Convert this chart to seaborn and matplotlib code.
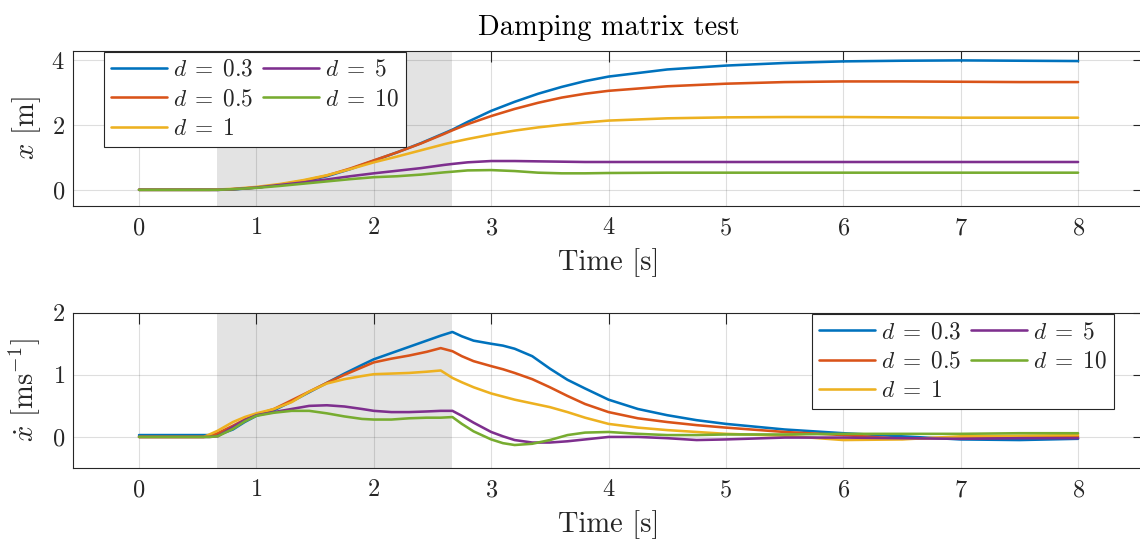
import numpy as np
import pandas as pd
import matplotlib
matplotlib.use("Agg")
import matplotlib.pyplot as plt
from matplotlib.lines import Line2D
import seaborn as sns

# ---------------- data ----------------
LABELS = [r"$d\;=\;0.3$", r"$d\;=\;0.5$", r"$d\;=\;1$", r"$d\;=\;5$", r"$d\;=\;10$"]
COLORS = ["#0072BD", "#D95319", "#EDB120", "#7E2F8E", "#77AC30"]

T_POS = [0, 0.6, 0.67, 0.8, 1.0, 1.2, 1.4, 1.6, 1.8, 2.0, 2.2, 2.4, 2.6, 2.67,
         2.8, 3.0, 3.2, 3.4, 3.6, 3.8, 4.0, 4.5, 5.0, 5.5, 6.0, 6.5, 7.0, 7.5, 8.0]
POS_D03 = [0, 0, 0.0, 0.01, 0.07, 0.15, 0.26, 0.42, 0.64, 0.90, 1.16, 1.44, 1.75, 1.86,
           2.10, 2.44, 2.72, 2.97, 3.18, 3.36, 3.50, 3.72, 3.84, 3.92, 3.97, 3.99, 4.00, 3.99, 3.98]
POS_D05 = [0, 0, 0.0, 0.02, 0.07, 0.16, 0.28, 0.44, 0.66, 0.91, 1.16, 1.43, 1.73, 1.84,
           2.03, 2.28, 2.50, 2.69, 2.85, 2.97, 3.06, 3.20, 3.28, 3.33, 3.35, 3.35, 3.34, 3.33, 3.33]
POS_D1 = [0, 0, 0.01, 0.03, 0.09, 0.18, 0.30, 0.45, 0.64, 0.85, 1.03, 1.22, 1.41, 1.47,
          1.57, 1.71, 1.83, 1.93, 2.01, 2.08, 2.14, 2.21, 2.24, 2.25, 2.25, 2.24, 2.23, 2.23, 2.23]
POS_D5 = [0, 0, 0, 0.02, 0.07, 0.15, 0.23, 0.32, 0.42, 0.51, 0.59, 0.67, 0.77, 0.80,
          0.85, 0.89, 0.89, 0.88, 0.87, 0.86, 0.86, 0.86, 0.86, 0.86, 0.86, 0.86, 0.86, 0.86, 0.86]
POS_D10 = [0, 0, 0, 0.02, 0.06, 0.12, 0.19, 0.26, 0.33, 0.39, 0.42, 0.47, 0.54, 0.56,
           0.60, 0.61, 0.58, 0.53, 0.51, 0.51, 0.52, 0.53, 0.53, 0.53, 0.53, 0.53, 0.53, 0.53, 0.53]

T_VEL = [0, 0.55, 0.6, 0.67, 0.8, 0.9, 1.0, 1.15, 1.3, 1.45, 1.6, 1.75, 1.9, 2.0, 2.15,
         2.3, 2.45, 2.57, 2.67, 2.75, 2.85, 3.0, 3.1, 3.2, 3.35, 3.5, 3.65, 3.8, 4.0,
         4.25, 4.5, 4.75, 5.0, 5.5, 6.0, 6.5, 7.0, 7.5, 8.0]
VEL_D03 = [0.03, 0.03, 0.03, 0.03, 0.12, 0.24, 0.34, 0.43, 0.57, 0.72, 0.87, 1.02, 1.16, 1.25, 1.35,
           1.45, 1.55, 1.63, 1.69, 1.62, 1.55, 1.50, 1.47, 1.42, 1.30, 1.10, 0.92, 0.78, 0.60,
           0.45, 0.35, 0.27, 0.21, 0.12, 0.06, 0.01, -0.04, -0.05, -0.03]
VEL_D05 = [0.0, 0.0, 0.01, 0.06, 0.18, 0.28, 0.36, 0.45, 0.59, 0.73, 0.87, 1.00, 1.12, 1.20, 1.26,
           1.31, 1.37, 1.43, 1.38, 1.30, 1.22, 1.14, 1.09, 1.03, 0.93, 0.80, 0.66, 0.53, 0.40,
           0.30, 0.24, 0.19, 0.15, 0.08, 0.03, -0.03, -0.01, 0.0, 0.0]
VEL_D1 = [0.0, 0.0, 0.04, 0.10, 0.24, 0.32, 0.38, 0.45, 0.56, 0.73, 0.86, 0.93, 0.98, 1.01, 1.02,
          1.03, 1.05, 1.07, 0.95, 0.88, 0.80, 0.70, 0.65, 0.60, 0.54, 0.48, 0.40, 0.31, 0.21,
          0.15, 0.11, 0.08, 0.05, 0.02, -0.05, -0.04, 0.01, 0.02, 0.03]
VEL_D5 = [0.0, 0.0, 0.0, 0.01, 0.16, 0.27, 0.35, 0.40, 0.45, 0.50, 0.51, 0.49, 0.45, 0.42, 0.40,
          0.40, 0.41, 0.42, 0.42, 0.34, 0.23, 0.08, 0.01, -0.05, -0.09, -0.09, -0.07, -0.04, 0.0,
          0.0, -0.02, -0.05, -0.04, -0.01, -0.01, -0.02, -0.03, -0.02, -0.02]
VEL_D10 = [0.0, 0.0, 0.0, 0.01, 0.13, 0.25, 0.34, 0.39, 0.42, 0.42, 0.38, 0.33, 0.29, 0.28, 0.28,
           0.30, 0.31, 0.31, 0.32, 0.21, 0.09, -0.04, -0.10, -0.13, -0.11, -0.05, 0.03, 0.07, 0.08,
           0.05, 0.03, 0.03, 0.04, 0.04, 0.05, 0.05, 0.05, 0.06, 0.06]

SHADE_SPAN = [0.667, 2.667]
XTICKS = [0, 1, 2, 3, 4, 5, 6, 7, 8]
XLIM = [-0.56, 8.56]
YTICKS_POS = [0, 2, 4]
YLIM_POS = [-0.5, 4.3]
YTICKS_VEL = [0, 1, 2]
YLIM_VEL = [-0.5, 2.0]

TITLE = "Damping matrix test"
XLABEL = "Time [s]"
YLABEL_POS = "$x$ [m]"
YLABEL_VEL = r"$\dot{x}$ [ms$^{-1}$]"

# ---------------- style ----------------
sns.set_theme(style="white")
plt.rcParams["font.family"] = ["cmr10", "DejaVu Serif"]
plt.rcParams["mathtext.fontset"] = "cm"
plt.rcParams["axes.formatter.use_mathtext"] = True
plt.rcParams["axes.unicode_minus"] = False

DARK = "#262626"
LW = 1.85


def long_frame(t, series):
    rows = []
    for lab, vals in zip(LABELS, series):
        rows.append(pd.DataFrame({"t": t, "value": vals, "series": lab}))
    return pd.concat(rows, ignore_index=True)


df_pos = long_frame(T_POS, [POS_D03, POS_D05, POS_D1, POS_D5, POS_D10])
df_vel = long_frame(T_VEL, [VEL_D03, VEL_D05, VEL_D1, VEL_D5, VEL_D10])
palette = dict(zip(LABELS, COLORS))

W, H = 1140, 544
fig = plt.figure(figsize=(W / 100, H / 100), dpi=100)
ax_left, ax_right = 73.3, 1143.8
ax1 = fig.add_axes([ax_left / W, 1 - 206 / H, (ax_right - ax_left) / W, 155.3 / H])
ax2 = fig.add_axes([ax_left / W, 1 - 468 / H, (ax_right - ax_left) / W, 155.3 / H])


def style_axes(ax, yticks, ylim, ylabel):
    ax.set_xlim(*XLIM)
    ax.set_ylim(*ylim)
    ax.set_xticks(XTICKS)
    ax.set_yticks(yticks)
    ax.set_axisbelow(True)
    ax.grid(True, color=DARK, alpha=0.15, lw=0.8)
    ax.axvspan(SHADE_SPAN[0], SHADE_SPAN[1], color="#e3e3e3", lw=0, zorder=0.2)
    for sp in ax.spines.values():
        sp.set_visible(True)
        sp.set_color(DARK)
        sp.set_linewidth(0.8)
    ax.tick_params(axis="both", direction="in", length=7.7, width=0.8, color=DARK,
                   top=True, right=True, labelsize=17.5, labelcolor=DARK)
    ax.tick_params(axis="x", pad=8)
    ax.tick_params(axis="y", pad=6)
    ax.set_xlabel(XLABEL, fontsize=20.5, color=DARK, va="top")
    ax.xaxis.set_label_coords(0.5, -0.27)
    ax.set_ylabel(ylabel, fontsize=20.5, color=DARK)
    ax.yaxis.set_label_coords(-0.028, 0.5)


for ax, df, yt, yl, ylab in [(ax1, df_pos, YTICKS_POS, YLIM_POS, YLABEL_POS),
                             (ax2, df_vel, YTICKS_VEL, YLIM_VEL, YLABEL_VEL)]:
    sns.lineplot(data=df, x="t", y="value", hue="series", hue_order=LABELS,
                 palette=palette, estimator=None, sort=False, lw=LW,
                 legend=False, ax=ax)
    style_axes(ax, yt, yl, ylab)

handles = [Line2D([], [], color=c, lw=LW) for c in COLORS]
leg_kw = dict(ncol=2, fontsize=16.8, handlelength=2.4, handletextpad=0.25,
              columnspacing=0.4, labelspacing=0.32, borderpad=0.3,
              borderaxespad=0, fancybox=False, framealpha=1, edgecolor=DARK)
l1 = ax1.legend(handles, LABELS, loc="upper left", bbox_to_anchor=(0.0287, 0.9936), **leg_kw)
l2 = ax2.legend(handles, LABELS, loc="upper right", bbox_to_anchor=(0.9722, 0.9916), **leg_kw)
for lg in (l1, l2):
    lg.get_frame().set_linewidth(0.8)

ax1.set_title(TITLE, fontsize=20.5, color="black", pad=11.3)

fig.savefig("out.png", dpi=100)
